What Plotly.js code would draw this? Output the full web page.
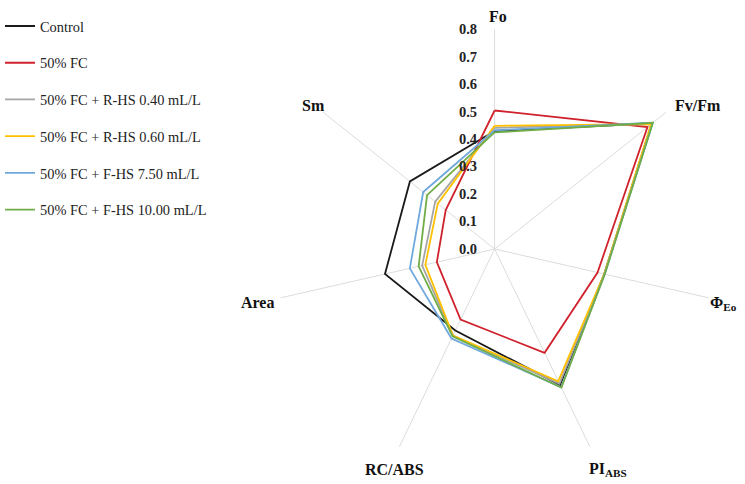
<!DOCTYPE html>
<html>
<head>
<meta charset="utf-8">
<script src="https://cdn.plot.ly/plotly-3.0.1.min.js"></script>
<style>
  html, body { margin: 0; padding: 0; background: #fff; }
  #chart { width: 745px; height: 484px; }
</style>
</head>
<body>
<div id="chart"></div>
<script>
// parametres (axes du radar)
const params = ['Fo', 'Fv/Fm', 'Φ<sub>Eo</sub>', 'PI<sub>ABS</sub>', 'RC/ABS', 'Area', 'Sm'];

// traitements
const seriesNames = [
    'Control',
    '50% FC',
    '50% FC + R-HS 0.40 mL/L',
    '50% FC + R-HS 0.60 mL/L',
    '50% FC + F-HS 7.50 mL/L',
    '50% FC + F-HS 10.00 mL/L'
];

// valeurs
const control   = [0.43, 0.735, 0.41, 0.55, 0.33, 0.41, 0.395];
const fc50      = [0.505, 0.713, 0.385, 0.42, 0.286, 0.216, 0.228];
const rhs040    = [0.442, 0.73, 0.41, 0.545, 0.35, 0.271, 0.277];
const rhs060    = [0.449, 0.73, 0.41, 0.535, 0.35, 0.259, 0.265];
const fhs750    = [0.433, 0.738, 0.412, 0.56, 0.362, 0.317, 0.333];
const fhs1000   = [0.425, 0.738, 0.412, 0.561, 0.353, 0.284, 0.315];

const radialTicks = [0, 0.1, 0.2, 0.3, 0.4, 0.5, 0.6, 0.7, 0.8];

const allSeries = [control, fc50, rhs040, rhs060, fhs750, fhs1000];
const colors = ['#1a1a1a', '#d0222c', '#a5a5a5', '#ffc000', '#6fa8dc', '#70ad47'];

// geometrie du radar (px)
const W = 745, H = 484;
const cx = 490.5, cy = 249, R = 223, rMax = 0.8;

// placement des libelles autour des rayons: [dx, dy, xanchor]
const labelStyle = [
    [3, -10, 'center'],
    [7, -4, 'left'],
    [-1, 5, 'left'],
    [-3, 20, 'left'],
    [-5, 20, 'center'],
    [-5, 4, 'right'],
    [-10, -4, 'center']
];

// fermer chaque polygone
const data = allSeries.map((vals, i) => ({
    type: 'scatterpolar',
    mode: 'lines',
    r: vals.concat([vals[0]]),
    theta: params.concat([params[0]]),
    name: seriesNames[i],
    legendgroup: 'g' + i,
    line: { color: colors[i], width: 1.8 },
    hoverinfo: 'skip'
}));

// libelles des axes au bout des rayons
const annotations = params.map((p, i) => {
    const a = (90 - i * 360 / params.length) * Math.PI / 180;
    const ex = cx + R * Math.cos(a);
    const ey = cy - R * Math.sin(a);
    const st = labelStyle[i];
    return {
        text: p,
        xref: 'paper', yref: 'paper',
        x: (ex + st[0]) / W,
        y: 1 - (ey + st[1]) / H,
        xanchor: st[2], yanchor: 'middle',
        showarrow: false,
        font: { family: 'Liberation Serif', size: 16, color: '#111', weight: 'bold' }
    };
});

const layout = {
    width: W,
    height: H,
    margin: { l: 0, r: 0, t: 0, b: 0 },
    paper_bgcolor: '#ffffff',
    showlegend: true,
    legend: {
        x: -0.0168, y: 0.979,
        xanchor: 'left', yanchor: 'top',
        traceorder: 'grouped',
        tracegroupgap: 15,
        font: { family: 'Liberation Serif', size: 14.4, color: '#222' },
        bgcolor: 'rgba(0,0,0,0)'
    },
    annotations: annotations,
    polar: {
        domain: {
            x: [(cx - R) / W, (cx + R) / W],
            y: [1 - (cy + R) / H, 1 - (cy - R) / H]
        },
        bgcolor: 'rgba(0,0,0,0)',
        radialaxis: {
            range: [0, rMax],
            tickvals: radialTicks,
            ticktext: radialTicks.map(v => v.toFixed(1)),
            angle: 90,
            side: 'counterclockwise',
            tickangle: 90,
            showgrid: false,
            showline: false,
            ticks: 'outside',
            ticklen: 12,
            tickcolor: 'rgba(0,0,0,0)',
            tickfont: { family: 'Liberation Serif', size: 14.5, color: '#222', weight: 'bold' }
        },
        angularaxis: {
            type: 'category',
            rotation: 90,
            direction: 'clockwise',
            showline: false,
            showgrid: true,
            showticklabels: false,
            gridcolor: '#dcdcdc',
            gridwidth: 1,
            ticks: ''
        }
    }
};

Plotly.newPlot('chart', data, layout, { displayModeBar: false, staticPlot: true });
</script>
</body>
</html>
